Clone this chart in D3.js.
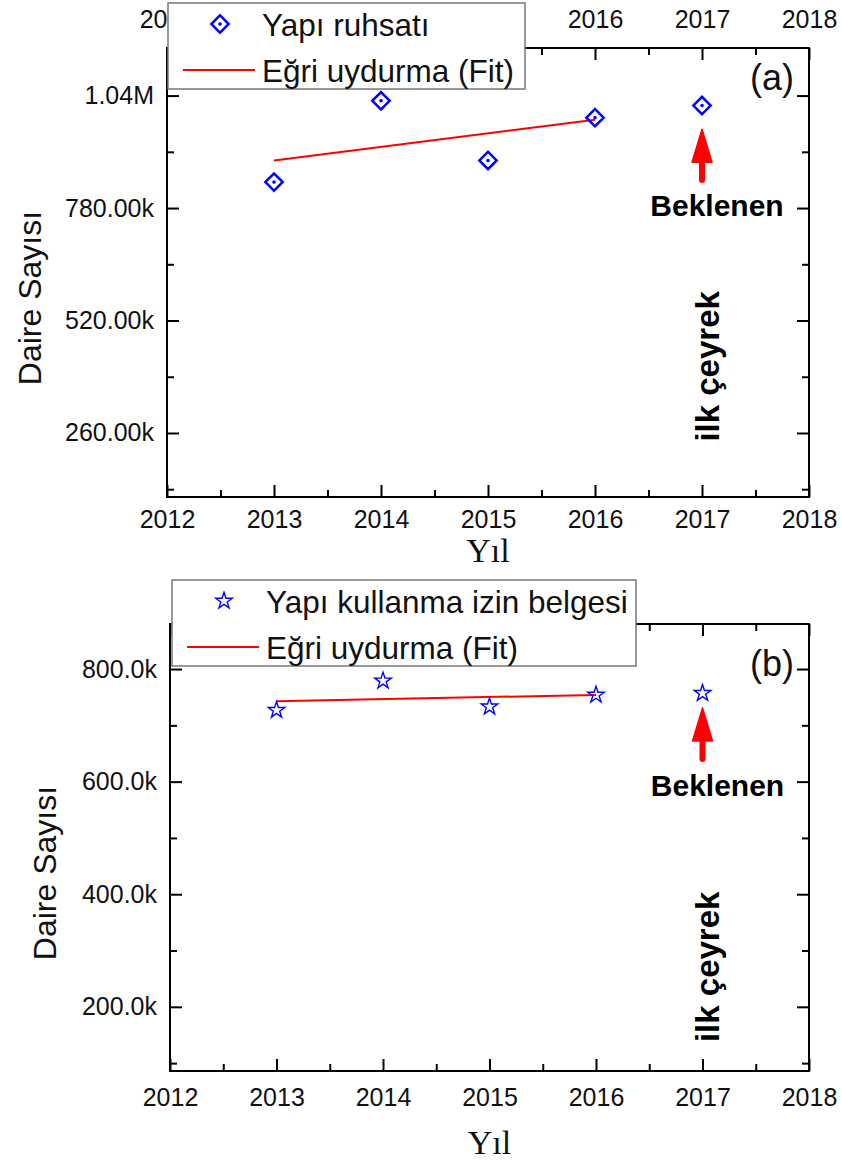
<!DOCTYPE html>
<html>
<head>
<meta charset="utf-8">
<script src="https://cdn.jsdelivr.net/npm/d3@7"></script>
<style>
body { margin: 0; background: #fff; }
text { font-family: "Liberation Sans", Arial, sans-serif; }
</style>
</head>
<body>
<div id="vis"></div>
<script>
var width = 842;
var height = 1168;

// data
var years = [2013, 2014, 2015, 2016, 2017];
var permitValues = [840000, 1028000, 890000, 989000, 1017000];
var occupancyValues = [727000, 779000, 733000, 754000, 757000];
var fitYears = [2013, 2016];
var permitFit = [890000, 984000];
var occupancyFit = [743000, 754000];

var xTicks = [2012, 2013, 2014, 2015, 2016, 2017, 2018];
var xMinor = [2012.5, 2013.5, 2014.5, 2015.5, 2016.5, 2017.5];
// top labels of panel (a) that are not under the legend
var topLabelYears = [2012, 2016, 2017, 2018];
var yTicksA = [260000, 520000, 780000, 1040000];
var yLabelsA = ['260.00k', '520.00k', '780.00k', '1.04M'];
var yMinorA = [130000, 390000, 650000, 910000];
var yTicksB = [200000, 400000, 600000, 800000];
var yLabelsB = ['200.0k', '400.0k', '600.0k', '800.0k'];
var yMinorB = [100000, 300000, 500000, 700000];
var legendA = ['Yapı ruhsatı', 'Eğri uydurma (Fit)'];
var legendB = ['Yapı kullanma izin belgesi', 'Eğri uydurma (Fit)'];

var svg = d3.select('#vis')
    .append('svg')
    .attr('width', width)
    .attr('height', height);

var panels = [
    {
        name: '(a)', left: 167, right: 809, top: 48, bottom: 497,
        yDomain: [112000, 1150000], values: permitValues, fit: permitFit,
        yTicks: yTicksA, yLabels: yLabelsA, yMinor: yMinorA,
        symbol: 'diamond', topLabels: true, xPad: 13,
        legend: legendA, legendBox: [168, 3, 357, 86],
        arrow: [845000, 962000], note: 414000,
        nameDy: 29, titleX: 30, titleY: 298, xTitleY: 562
    },
    {
        name: '(b)', left: 170, right: 809, top: 624, bottom: 1071,
        yDomain: [86000, 880000], values: occupancyValues, fit: occupancyFit,
        yTicks: yTicksB, yLabels: yLabelsB, yMinor: yMinorB,
        symbol: 'star', topLabels: false, xPad: 17,
        legend: legendB, legendBox: [172, 580, 464, 86],
        arrow: [640000, 731000], note: 271000,
        nameDy: 39, titleX: 45, titleY: 873, xTitleY: 1154
    }
];

function styleAxis(sel) {
    sel.select('.domain').remove();
    sel.selectAll('line').attr('stroke', '#000').attr('stroke-width', 2);
    sel.selectAll('text').attr('font-family', '"Liberation Sans", Arial, sans-serif')
        .attr('font-size', 25).attr('fill', '#111');
}

function drawPanel(p) {
    var x = d3.scaleLinear().domain([2012, 2018]).range([p.left, p.right]);
    var y = d3.scaleLinear().domain(p.yDomain).range([p.bottom, p.top]);
    var g = svg.append('g');
    var yFmt = function (d) { return p.yLabels[p.yTicks.indexOf(d)]; };
    var topFmt = function (d) {
        return p.topLabels && topLabelYears.indexOf(d) >= 0 ? String(d) : '';
    };

    // axes, all ticks pointing inward
    g.append('g').attr('transform', 'translate(0,' + p.bottom + ')')
        .call(d3.axisBottom(x).tickValues(xTicks).tickSize(-12).tickPadding(p.xPad).tickFormat(d3.format('d')))
        .call(styleAxis);
    g.append('g').attr('transform', 'translate(0,' + p.bottom + ')')
        .call(d3.axisBottom(x).tickValues(xMinor).tickSize(-7).tickFormat(''))
        .call(styleAxis);
    g.append('g').attr('transform', 'translate(0,' + p.top + ')')
        .call(d3.axisTop(x).tickValues(xTicks).tickSize(-12).tickPadding(20).tickFormat(topFmt))
        .call(styleAxis);
    g.append('g').attr('transform', 'translate(0,' + p.top + ')')
        .call(d3.axisTop(x).tickValues(xMinor).tickSize(-7).tickFormat(''))
        .call(styleAxis);
    g.append('g').attr('transform', 'translate(' + p.left + ',0)')
        .call(d3.axisLeft(y).tickValues(p.yTicks).tickSize(-12).tickPadding(13).tickFormat(yFmt))
        .call(styleAxis);
    g.append('g').attr('transform', 'translate(' + p.left + ',0)')
        .call(d3.axisLeft(y).tickValues(p.yMinor).tickSize(-7).tickFormat(''))
        .call(styleAxis);
    g.append('g').attr('transform', 'translate(' + p.right + ',0)')
        .call(d3.axisRight(y).tickValues(p.yTicks).tickSize(-12).tickFormat(''))
        .call(styleAxis);
    g.append('g').attr('transform', 'translate(' + p.right + ',0)')
        .call(d3.axisRight(y).tickValues(p.yMinor).tickSize(-7).tickFormat(''))
        .call(styleAxis);

    // frame
    g.append('rect')
        .attr('x', p.left).attr('y', p.top)
        .attr('width', p.right - p.left).attr('height', p.bottom - p.top)
        .attr('fill', 'none').attr('stroke', '#000').attr('stroke-width', 2);

    // fit line
    g.append('line')
        .attr('x1', x(fitYears[0])).attr('y1', y(p.fit[0]))
        .attr('x2', x(fitYears[1])).attr('y2', y(p.fit[1]))
        .attr('stroke', '#ff0000').attr('stroke-width', 2);

    // markers
    var pts = g.append('g').selectAll('g')
        .data(years.map(function (yr, i) { return [yr, p.values[i]]; }))
        .enter().append('g')
        .attr('transform', function (d) { return 'translate(' + x(d[0]) + ',' + y(d[1]) + ')'; });
    drawMarker(pts, p.symbol);

    // arrow to the expected value
    var ax = x(2017), tail = y(p.arrow[0]), tip = y(p.arrow[1]);
    g.append('line')
        .attr('x1', ax).attr('x2', ax).attr('y1', tail).attr('y2', tip + 25)
        .attr('stroke', '#ff0000').attr('stroke-width', 6).attr('stroke-linecap', 'round');
    g.append('path')
        .attr('d', 'M' + ax + ',' + tip + 'L' + (ax + 10) + ',' + (tip + 33) + 'L' + (ax - 10) + ',' + (tip + 33) + 'Z')
        .attr('fill', '#ff0000').attr('stroke', '#ff0000').attr('stroke-width', 1.5).attr('stroke-linejoin', 'round');
    g.append('text')
        .attr('x', ax + 15).attr('y', tail + 26).attr('dy', '0.35em')
        .attr('text-anchor', 'middle').attr('font-weight', 'bold').attr('font-size', 30)
        .text('Beklenen');
    g.append('text')
        .attr('transform', 'translate(' + (ax + 5) + ',' + y(p.note) + ') rotate(-90)')
        .attr('dy', '0.35em').attr('text-anchor', 'middle')
        .attr('font-weight', 'bold').attr('font-size', 33)
        .text('ilk çeyrek');

    // panel tag
    g.append('text')
        .attr('x', p.right - 37).attr('y', p.top + p.nameDy).attr('dy', '0.35em')
        .attr('text-anchor', 'middle').attr('font-size', 36).attr('fill', '#111')
        .text(p.name);

    // axis titles
    g.append('text')
        .attr('transform', 'translate(' + p.titleX + ',' + p.titleY + ') rotate(-90)')
        .attr('dy', '0.35em').attr('text-anchor', 'middle').attr('font-size', 32).attr('fill', '#111')
        .text('Daire Sayısı');
    g.append('text')
        .attr('x', (p.left + p.right) / 2).attr('y', p.xTitleY)
        .attr('text-anchor', 'middle').attr('font-size', 34).attr('fill', '#111')
        .style('font-family', '"Liberation Serif", "Times New Roman", serif')
        .text('Yıl');

    // legend
    var b = p.legendBox;
    var lg = g.append('g');
    lg.append('rect')
        .attr('x', b[0]).attr('y', b[1]).attr('width', b[2]).attr('height', b[3])
        .attr('fill', '#fff').attr('stroke', '#777').attr('stroke-width', 1.5);
    var m = lg.append('g').attr('transform', 'translate(' + (b[0] + 52) + ',' + (b[1] + 21) + ')');
    drawMarker(m, p.symbol);
    lg.append('line')
        .attr('x1', b[0] + 15).attr('x2', b[0] + 87)
        .attr('y1', b[1] + 67).attr('y2', b[1] + 67)
        .attr('stroke', '#ff0000').attr('stroke-width', 2);
    lg.selectAll('text.item')
        .data(p.legend)
        .enter().append('text')
        .attr('class', 'item')
        .attr('x', b[0] + 94)
        .attr('y', function (d, i) { return b[1] + 22 + i * 46; })
        .attr('dy', '0.35em')
        .attr('font-size', 31.5).attr('fill', '#111')
        .text(function (d) { return d; });
}

function drawMarker(sel, kind) {
    if (kind === 'diamond') {
        sel.append('path')
            .attr('d', d3.symbol().type(d3.symbolSquare).size(150))
            .attr('transform', 'rotate(45)')
            .attr('fill', 'none').attr('stroke', '#0000ff').attr('stroke-width', 2.5);
        sel.append('circle').attr('r', 1.8).attr('fill', '#0000ff');
    } else {
        sel.append('path')
            .attr('d', d3.symbol().type(d3.symbolStar).size(85))
            .attr('fill', 'none').attr('stroke', '#0000ff').attr('stroke-width', 1.4);
    }
}

panels.forEach(drawPanel);
</script>
</body>
</html>
